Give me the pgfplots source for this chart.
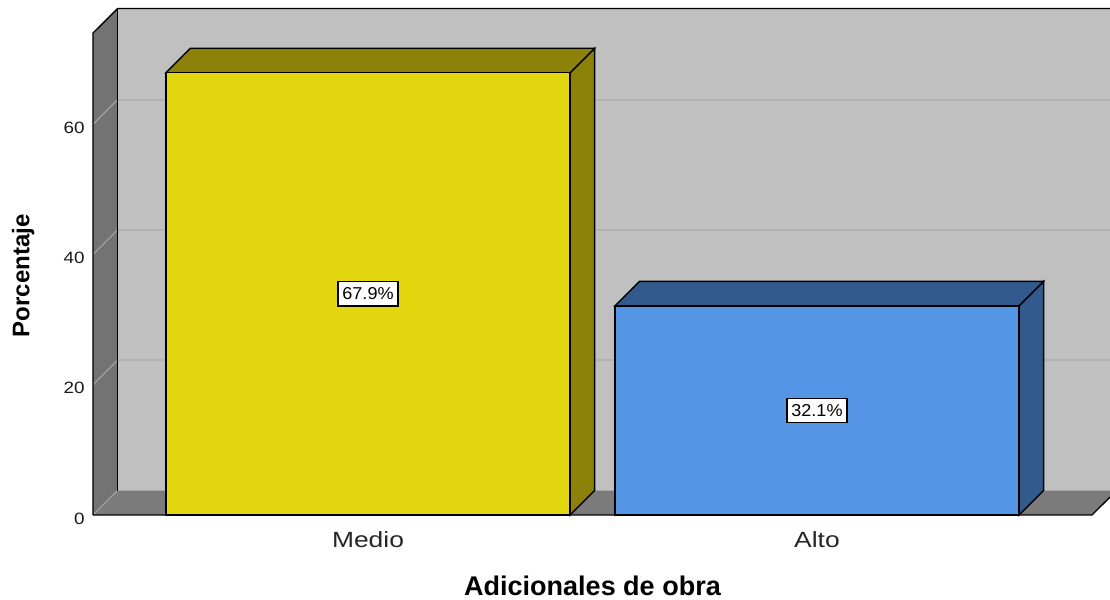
\documentclass[border=0pt]{standalone}
\usepackage{pgfplots}
\pgfplotsset{compat=1.18}
\usepackage{fontspec}
\setmainfont{Liberation Sans}
\newfontfamily\tickfont[FakeStretch=1.15]{Liberation Sans}
\newfontfamily\catfont[FakeStretch=1.2]{Liberation Sans}
\newfontfamily\valfont[FakeStretch=1.05]{Liberation Sans}
\definecolor{yfront}{HTML}{E2D70E}
\definecolor{yside}{HTML}{8C8209}
\definecolor{bfront}{HTML}{5595E6}
\definecolor{bside}{HTML}{335A8C}
\definecolor{backwall}{HTML}{C0C0C0}
\definecolor{leftwall}{HTML}{737373}
\definecolor{floorc}{HTML}{7B7B7B}
\definecolor{gridback}{HTML}{B2B2B2}
\definecolor{gridside}{HTML}{A0A0A0}
\begin{document}
\begin{tikzpicture}
\useasboundingbox (-46.5pt,-42.5pt) rectangle (508.5pt,257.5pt);
\begin{axis}[
  scale only axis,
  width=499.5pt, height=241pt,
  xmin=0.3875, xmax=2.6125,
  ymin=0, ymax=74,
  clip=false,
  axis line style={draw=none},
  major tick length=0pt,
  xtick={1,2}, xticklabels={Medio,Alto},
  ytick={0,20,40,60},
  /pgf/number format/assume math mode=true,
  xticklabel style={font=\catfont\fontsize{11}{13}\selectfont, text=black!85, anchor=base, yshift=-16.3pt, inner sep=0pt},
  yticklabel style={font=\tickfont\fontsize{8.2}{10}\selectfont, text=black!90, anchor=east, inner sep=0pt, xshift=-4pt, yshift=-1.8pt},
  xlabel={Adicionales de obra},
  ylabel={Porcentaje},
  xlabel style={font=\bfseries\fontsize{13.5}{16}\selectfont, at={(axis description cs:0.5,-0.146)}, anchor=center},
  ylabel style={font=\bfseries\fontsize{12}{14}\selectfont, at={(axis description cs:-0.070,0.496)}, anchor=center, rotate=0},
]
% back wall
\addplot[fill=backwall, draw=none] coordinates {(0.4421,3.76) (2.70,3.76) (2.70,77.76) (0.4421,77.76)} -- cycle;
% gridlines on back wall
\addplot[draw=gridback, line width=0.8pt] coordinates {(0.4421,23.76) (2.70,23.76)};
\addplot[draw=gridback, line width=0.8pt] coordinates {(0.4421,43.76) (2.70,43.76)};
\addplot[draw=gridback, line width=0.8pt] coordinates {(0.4421,63.76) (2.70,63.76)};
% left wall
\addplot[fill=leftwall, draw=none] coordinates {(0.3875,0) (0.4421,3.76) (0.4421,77.76) (0.3875,74)} -- cycle;
% floor
\addplot[fill=floorc, draw=none] coordinates {(0.3875,0) (2.6125,0) (2.6671,3.76) (0.4421,3.76)} -- cycle;
% gridlines on left wall
\addplot[draw=gridside, line width=0.6pt] coordinates {(0.3875,0) (0.4421,3.76)};
\addplot[draw=gridside, line width=0.6pt] coordinates {(0.3875,20) (0.4421,23.76)};
\addplot[draw=gridside, line width=0.6pt] coordinates {(0.3875,40) (0.4421,43.76)};
\addplot[draw=gridside, line width=0.6pt] coordinates {(0.3875,60) (0.4421,63.76)};
% wall outlines
\addplot[draw=black, line width=0.7pt] coordinates {(0.3875,0) (0.3875,74) (0.4421,77.76) (2.70,77.76)};
\addplot[draw=black, line width=0.7pt] coordinates {(0.4421,3.76) (0.4421,77.76)};
\addplot[draw=black, line width=0.7pt] coordinates {(0.3875,0) (2.6125,0) (2.6671,3.76)};
% Medio bar (3D faces)
\addplot[fill=yside, draw=black, line width=0.7pt] coordinates {(1.45,0) (1.5046,3.76) (1.5046,71.66) (1.45,67.9)} -- cycle;
\addplot[fill=yside, draw=black, line width=0.7pt] coordinates {(0.55,67.9) (0.6046,71.66) (1.5046,71.66) (1.45,67.9)} -- cycle;
\addplot[ybar, bar width=0.9, bar shift=0pt, fill=yfront, draw=black, line width=0.7pt] coordinates {(1,67.9)};
% Alto bar (3D faces)
\addplot[fill=bside, draw=black, line width=0.7pt] coordinates {(2.45,0) (2.5046,3.76) (2.5046,35.86) (2.45,32.1)} -- cycle;
\addplot[fill=bside, draw=black, line width=0.7pt] coordinates {(1.55,32.1) (1.6046,35.86) (2.5046,35.86) (2.45,32.1)} -- cycle;
\addplot[ybar, bar width=0.9, bar shift=0pt, fill=bfront, draw=black, line width=0.7pt] coordinates {(2,32.1)};
% value labels
\node[draw=black, fill=white, line width=0.6pt, inner xsep=2.2pt, inner ysep=3pt, font=\valfont\fontsize{8.6}{10}\selectfont] at (axis cs:1,33.95) {67.9\%};
\node[draw=black, fill=white, line width=0.6pt, inner xsep=2.2pt, inner ysep=3pt, font=\valfont\fontsize{8.6}{10}\selectfont] at (axis cs:2,16.05) {32.1\%};
\end{axis}
\end{tikzpicture}
\end{document}
